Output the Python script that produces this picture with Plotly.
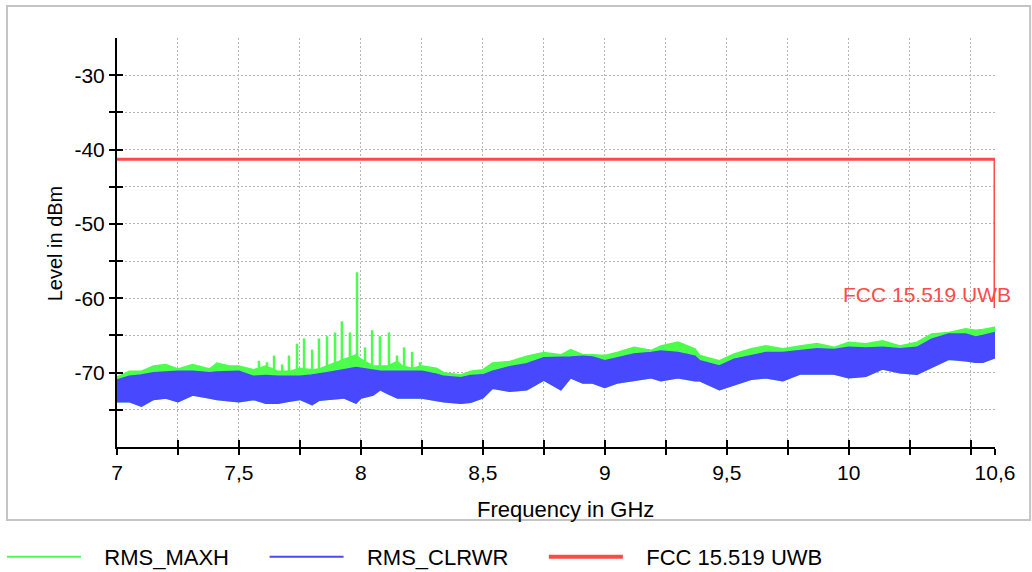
import plotly.graph_objects as go

# ---------------- data ----------------
freq_ghz = [7.00, 7.05, 7.10, 7.15, 7.20, 7.25, 7.31, 7.38, 7.41, 7.46, 7.50, 7.56, 7.61, 7.66,
            7.71, 7.75, 7.80, 7.83, 7.86, 7.93, 7.98, 8.00, 8.05, 8.08, 8.11, 8.15, 8.17, 8.21,
            8.25, 8.31, 8.34, 8.41, 8.45, 8.50, 8.54, 8.61, 8.68, 8.75, 8.82, 8.86, 8.91, 8.95,
            9.00, 9.05, 9.12, 9.19, 9.23, 9.30, 9.37, 9.39, 9.47, 9.53, 9.60, 9.66, 9.73, 9.80,
            9.87, 9.94, 10.00, 10.07, 10.14, 10.21, 10.28, 10.34, 10.41, 10.48, 10.52, 10.55, 10.60]

maxh_top_dbm = [-70.6, -69.8, -69.8, -69.1, -68.9, -69.5, -68.9, -69.5, -68.7, -69.1, -69.1, -69.6,
                -69.1, -69.8, -69.8, -69.4, -69.6, -69.5, -69.1, -68.2, -67.6, -68.2, -69.1, -69.1,
                -69.1, -68.5, -69.1, -69.4, -69.1, -69.4, -70.0, -70.3, -69.8, -69.6, -68.7, -68.5,
                -67.8, -67.3, -67.6, -66.9, -67.6, -67.6, -67.7, -67.3, -66.6, -67.0, -66.4, -65.9,
                -66.8, -67.7, -68.4, -67.5, -66.8, -66.4, -66.8, -66.4, -66.1, -66.6, -65.9, -66.1,
                -65.7, -66.4, -65.9, -64.8, -64.6, -64.1, -64.3, -64.2, -63.9]

clrwr_top_dbm = [-71.0, -70.5, -70.3, -70.0, -69.9, -69.8, -69.8, -70.0, -69.9, -69.9, -69.8, -70.5,
                 -70.4, -70.5, -70.5, -70.5, -70.3, -70.2, -70.0, -69.6, -69.3, -69.4, -69.6, -69.8,
                 -69.8, -69.8, -69.8, -69.8, -69.8, -70.2, -70.5, -70.7, -70.4, -70.3, -69.8, -69.2,
                 -68.8, -68.0, -68.0, -67.9, -67.8, -67.9, -68.4, -68.0, -67.5, -67.3, -67.1, -67.3,
                 -67.8, -68.4, -69.1, -68.2, -67.7, -67.3, -67.3, -67.0, -66.8, -66.9, -66.6, -66.7,
                 -66.6, -66.8, -66.6, -65.5, -64.8, -64.8, -65.2, -65.0, -64.6]

clrwr_bottom_dbm = [-73.9, -73.9, -74.5, -73.6, -73.4, -73.9, -73.0, -73.4, -73.6, -73.8, -73.9, -73.6,
                    -74.1, -74.1, -73.8, -73.6, -74.3, -73.7, -73.6, -73.4, -74.1, -73.4, -73.0, -72.3,
                    -72.8, -73.4, -73.4, -73.4, -73.4, -73.7, -73.9, -74.1, -74.0, -73.4, -72.1, -72.5,
                    -72.3, -71.0, -72.3, -70.7, -71.4, -71.4, -72.0, -71.4, -71.1, -70.7, -71.1, -70.7,
                    -71.1, -71.1, -72.3, -71.6, -70.9, -70.7, -71.1, -70.2, -70.2, -70.2, -70.7, -70.5,
                    -69.5, -70.0, -70.2, -69.3, -68.2, -68.4, -68.6, -68.6, -68.0]

spike_freq_ghz = [7.582, 7.615, 7.644, 7.677, 7.705, 7.738, 7.767, 7.800, 7.828, 7.861, 7.894,
                  7.922, 7.955, 7.984, 8.017, 8.046, 8.078, 8.115, 8.148, 8.177, 8.210, 8.242]
spike_level_dbm = [-68.4, -68.6, -67.7, -68.9, -67.7, -66.1, -65.4, -66.9, -65.4, -65.1, -64.6,
                   -63.1, -64.6, -56.5, -66.6, -64.3, -65.1, -64.6, -67.7, -66.6, -67.2, -68.6]

limit_freq_ghz = [7.0, 10.6, 10.6]
limit_level_dbm = [-41.3, -41.3, -61.3]
limit_label = "FCC 15.519 UWB"
series_names = ["RMS_MAXH", "RMS_CLRWR", limit_label]

y_tick_values = [-75, -70, -65, -60, -55, -50, -45, -40, -35, -30]
y_tick_labels = ["", "-70", "", "-60", "", "-50", "", "-40", "", "-30"]
x_tick_values = [7.0, 7.25, 7.5, 7.75, 8.0, 8.25, 8.5, 8.75, 9.0, 9.25, 9.5, 9.75,
                 10.0, 10.25, 10.5, 10.6]
x_tick_labels = ["7", "", "7,5", "", "8", "", "8,5", "", "9", "", "9,5", "", "10", "", "", "10,6"]

x_range = [7.0, 10.6]
y_range = [-80.0, -25.0]

# ---------------- styling ----------------
GREEN = "#4cff4c"
BLUE = "#4848ff"
RED = "#ff4a4a"
FONT = "Liberation Sans, Arial, sans-serif"
NB = "\u00a0"

fig = go.Figure()

# green (MAXH) band
fig.add_trace(go.Scatter(
    x=freq_ghz + freq_ghz[::-1],
    y=maxh_top_dbm + clrwr_bottom_dbm[::-1],
    fill="toself", fillcolor=GREEN, mode="lines",
    line=dict(color=GREEN, width=1.5),
    showlegend=False, hoverinfo="skip"))

# green spikes (MAXH harmonics)
spike_base = min(clrwr_top_dbm)
sx, sy = [], []
for f, lvl in zip(spike_freq_ghz, spike_level_dbm):
    sx += [f, f, None]
    sy += [spike_base, lvl, None]
fig.add_trace(go.Scatter(x=sx, y=sy, mode="lines", line=dict(color=GREEN, width=2.5),
                         showlegend=False, hoverinfo="skip"))

# blue (CLRWR) band
fig.add_trace(go.Scatter(
    x=freq_ghz + freq_ghz[::-1],
    y=clrwr_top_dbm + clrwr_bottom_dbm[::-1],
    fill="toself", fillcolor=BLUE, mode="lines",
    line=dict(color=BLUE, width=1.5),
    showlegend=False, hoverinfo="skip"))

# limit line
fig.add_trace(go.Scatter(x=limit_freq_ghz, y=limit_level_dbm, mode="lines",
                         line=dict(color=RED, width=3), showlegend=False, hoverinfo="skip"))

# legend entries
for nm, col, w in zip(series_names, [GREEN, BLUE, RED], [2, 2, 4]):
    fig.add_trace(go.Scatter(x=[None], y=[None], mode="lines", line=dict(color=col, width=w),
                             name=NB * 3 + nm + NB * 5))

# overlay axes for inside half of crossing ticks
fig.add_trace(go.Scatter(x=[None], y=[None], xaxis="x2", yaxis="y2", showlegend=False,
                         hoverinfo="skip"))

grid = dict(showgrid=True, gridcolor="#b4b4b4", gridwidth=1, griddash="2px,2px")

fig.update_layout(
    width=1032, height=572,
    margin=dict(l=117, r=37, t=38, b=125, autoexpand=False),
    paper_bgcolor="white", plot_bgcolor="white",
    font=dict(family=FONT, size=21, color="black"),
    hovermode=False,
    xaxis=dict(range=x_range, tickvals=x_tick_values, ticktext=x_tick_labels,
               ticks="outside", ticklen=6, tickwidth=2, tickcolor="black",
               showline=True, linecolor="black", linewidth=2, zeroline=False,
               tickfont=dict(size=21), **grid),
    yaxis=dict(range=y_range, tickvals=y_tick_values, ticktext=y_tick_labels,
               ticks="outside", ticklen=6, tickwidth=2, tickcolor="black",
               showline=True, linecolor="black", linewidth=2, zeroline=False,
               tickfont=dict(size=21), **grid),
    xaxis2=dict(range=x_range, tickvals=x_tick_values, ticks="inside", ticklen=7,
                tickwidth=2, tickcolor="black", showticklabels=False, showgrid=False,
                zeroline=False, showline=False, overlaying="x", anchor="y2", side="bottom"),
    yaxis2=dict(range=y_range, tickvals=y_tick_values, ticks="inside", ticklen=6,
                tickwidth=2, tickcolor="black", showticklabels=False, showgrid=False,
                zeroline=False, showline=False, overlaying="y", anchor="x2", side="left"),
    legend=dict(orientation="h", x=-0.1310, xanchor="left", y=-0.269, yanchor="middle",
                itemwidth=74, font=dict(size=22), bgcolor="rgba(0,0,0,0)"),
    showlegend=True,
    annotations=[
        dict(text="Frequency in GHz", xref="paper", yref="paper", x=0.511, y=-0.152,
             showarrow=False, xanchor="center", yanchor="middle", font=dict(size=22)),
        dict(text="Level in dBm", xref="paper", yref="paper", x=-0.0706, y=0.498,
             showarrow=False, textangle=-90, xanchor="center", yanchor="middle",
             font=dict(size=20)),
        dict(text=limit_label, xref="x", yref="paper", x=limit_freq_ghz[-1], y=0.374,
             showarrow=False, xanchor="right", yanchor="middle", xshift=18,
             font=dict(size=21, color=RED)),
    ],
    shapes=[dict(type="rect", xref="paper", yref="paper", x0=-0.1253, x1=1.04,
                 y0=-0.1785, y1=1.078, line=dict(color="#c4c4c4", width=2),
                 fillcolor="rgba(0,0,0,0)", layer="below")],
)

fig.write_html("out.html", config={"displayModeBar": False},
               post_script="document.body.style.margin='0px';")
